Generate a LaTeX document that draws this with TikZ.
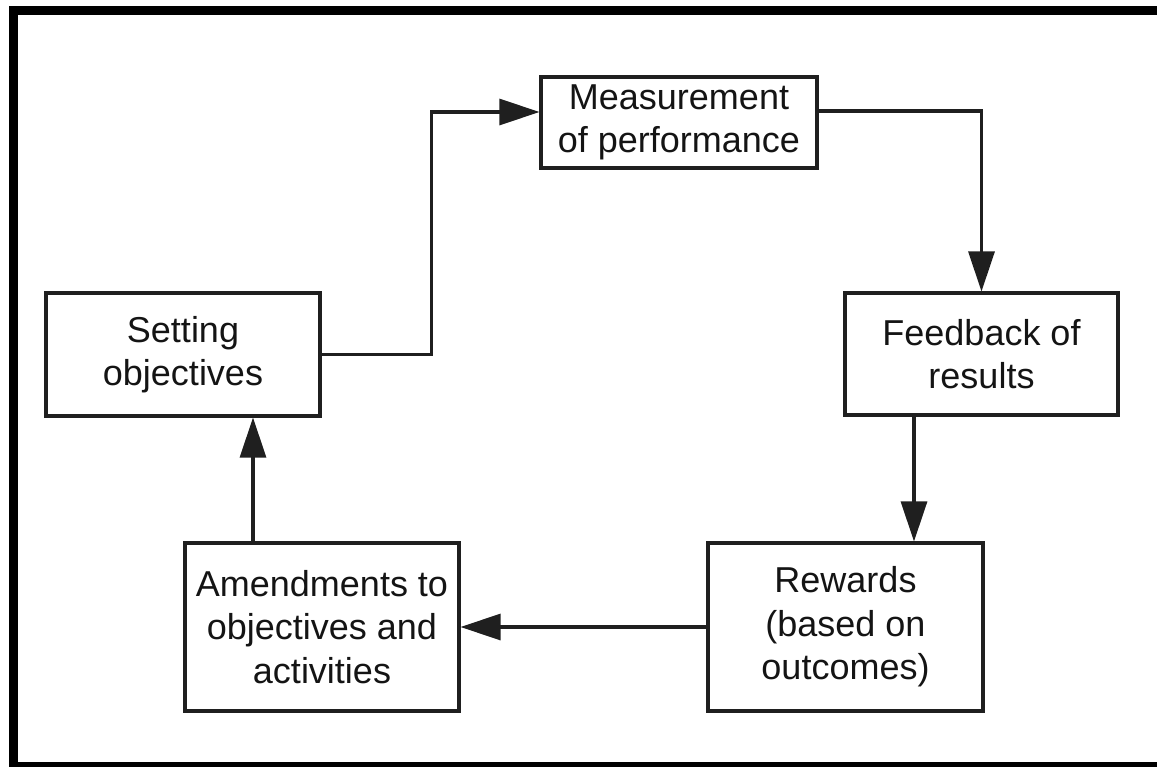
\documentclass[tikz,border=0pt]{standalone}
\usepackage{fontspec}
\setmainfont{Liberation Sans}
\usetikzlibrary{arrows.meta}
\begin{document}
\begin{tikzpicture}[x=1pt,y=-1pt,
  stage/.style={draw=black!88, line width=3.1pt, align=center, inner sep=0pt,
    font=\fontsize{36}{43.5}\selectfont, text=black!92},
  flow/.style={draw=black!88, line width=3.1pt,
    -{Triangle[length=40pt,width=26pt]}}]
  \useasboundingbox (0,0) rectangle (1157,766);
  \begin{scope}
    \clip (0,0) rectangle (1157,766);
    \draw[line width=9pt] (13,10.5) rectangle (1170,766.5);
  \end{scope}

  % stages of the cycle
  \node[stage, minimum width=276pt, minimum height=91pt] (meas) at (679,122.5)
    {Measurement\\of performance};
  \node[stage, minimum width=274pt, minimum height=123pt] (set) at (183,354.5)
    {Setting\\objectives};
  \node[stage, minimum width=273pt, minimum height=122pt] (feed) at (981.5,354)
    {Feedback of\\results};
  \node[stage, minimum width=274pt, minimum height=168pt] (amend) at (322,627)
    {Amendments to\\objectives and\\activities};
  \node[stage, minimum width=275pt, minimum height=168pt] (rew) at (845.5,627)
    {Rewards\\(based on\\outcomes)};

  % routing points
  \coordinate (c1) at (431.5,112);
  \coordinate (c2) at (981.5,111);
  \coordinate (c3) at (914,0);
  \coordinate (c4) at (253,0);

  % connectors
  \draw[flow] (set.east) -| (c1) -- (c1 -| meas.west);
  \draw[flow] (c2 -| meas.east) -- (c2) -- (feed.north);
  \draw[flow] (feed.south -| c3) -- (rew.north -| c3);
  \draw[flow] (rew.west) -- (amend.east);
  \draw[flow] (amend.north -| c4) -- (set.south -| c4);
\end{tikzpicture}
\end{document}
